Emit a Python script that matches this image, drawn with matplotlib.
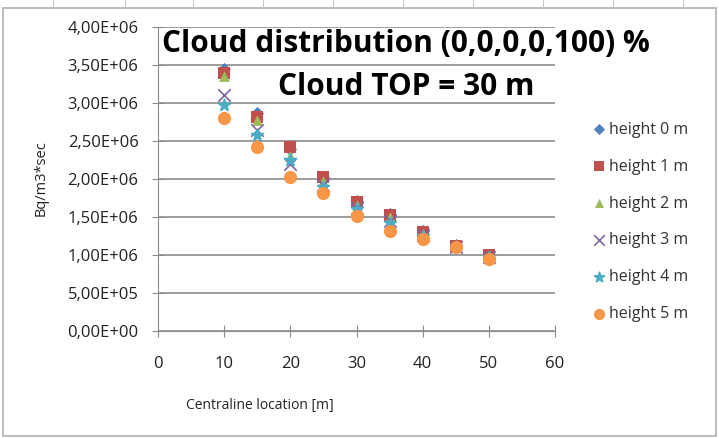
import matplotlib.pyplot as plt
from matplotlib.ticker import FuncFormatter
from matplotlib.patches import Rectangle
from matplotlib.lines import Line2D

# Data (Bq/m3*sec, in units of 1e6)
x_vals = [10, 15, 20, 25, 30, 35, 40, 45, 50]
h0 = [3.45, 2.87, 2.40, 2.02, 1.71, 1.54, 1.31, 1.13, 1.00]
h1 = [3.40, 2.82, 2.42, 2.02, 1.70, 1.53, 1.30, 1.12, 1.00]
h2 = [3.35, 2.78, 2.30, 1.98, 1.66, 1.50, 1.28, 1.12, 0.99]
h3 = [3.10, 2.65, 2.20, 1.92, 1.62, 1.45, 1.26, 1.11, 0.98]
h4 = [2.98, 2.58, 2.25, 1.90, 1.60, 1.42, 1.25, 1.11, 0.98]
h5 = [2.80, 2.42, 2.02, 1.81, 1.51, 1.31, 1.21, 1.10, 0.95]
labels = ["height 0 m", "height 1 m", "height 2 m",
          "height 3 m", "height 4 m", "height 5 m"]

series = [h0, h1, h2, h3, h4, h5]
markers = ['D', 's', '^', 'x', '*', 'o']
colors = ['#4F81BD', '#C0504D', '#9BBB59', '#8064A2', '#4BACC6', '#F79646']
sizes = [45, 70, 60, 80, 80, 90]

plt.rcParams['font.family'] = ['Open Sans', 'DejaVu Sans']

fig = plt.figure(figsize=(7.19, 4.38), dpi=100)
ax = fig.add_axes([158/719, 1 - 331/438, 397/719, 304/438])

for ys, m, c, s, lab in zip(series, markers, colors, sizes, labels):
    yv = [v * 1e6 for v in ys]
    if m in ('x', '*'):
        ax.scatter(x_vals, yv, marker=m, color=c, s=s, linewidths=1.2,
                   label=lab, zorder=3)
    else:
        ax.scatter(x_vals, yv, marker=m, color=c, s=s, linewidths=0,
                   label=lab, zorder=3)

ax.set_xlim(0, 60)
ax.set_ylim(0, 4e6)
ax.set_xticks(range(0, 61, 10))
ax.set_yticks([i * 5e5 for i in range(9)])
ax.yaxis.set_major_formatter(
    FuncFormatter(lambda v, p: ("%.2E" % v).replace('.', ',')))
ax.grid(axis='y', color='#8c8c8c', linewidth=1.2)
ax.set_axisbelow(True)
for side in ('top', 'right'):
    ax.spines[side].set_visible(False)
for side in ('left', 'bottom'):
    ax.spines[side].set_color('#8c8c8c')
ax.tick_params(axis='both', direction='inout', length=8, color='#8c8c8c',
               labelsize=12, labelcolor='#222222')
ax.tick_params(axis='x', pad=14)
ax.tick_params(axis='y', pad=10)

fig.text(260/719, 1 - 405/438, "Centraline location [m]", fontsize=10,
         ha='center', va='center', color='#222222')
fig.text(41/719, 1 - 178/438, "Bq/m3*sec", fontsize=10.5, rotation=90,
         ha='center', va='center', color='#222222')

fig.text(406/719, 1 - 44/438, "Cloud distribution (0,0,0,0,100) %",
         fontsize=21.5, fontweight='bold', ha='center', va='center')
fig.text(406/719, 1 - 87/438, "Cloud TOP = 30 m",
         fontsize=21.5, fontweight='bold', ha='center', va='center')

ax.legend(loc='center left', bbox_to_anchor=(575/719, 1 - 222/438),
          bbox_transform=fig.transFigure, frameon=False, fontsize=11.5,
          handletextpad=0.0, labelspacing=1.31, handlelength=1.2,
          markerscale=0.85, labelcolor='#333333')

# chart border and spreadsheet cell lines above it
fig.patches.append(Rectangle((3/719, 2/438), 713/719, 428/438,
                             transform=fig.transFigure, fill=False,
                             edgecolor='#b0b0b0', linewidth=1.2))
for xc in [53, 125, 193, 263, 333, 403, 473, 543, 613, 683]:
    fig.lines.append(Line2D([xc/719, xc/719], [1 - 8/438, 1],
                            transform=fig.transFigure, color='#c8c8c8',
                            linewidth=0.8))

fig.savefig("out.png", dpi=100)
